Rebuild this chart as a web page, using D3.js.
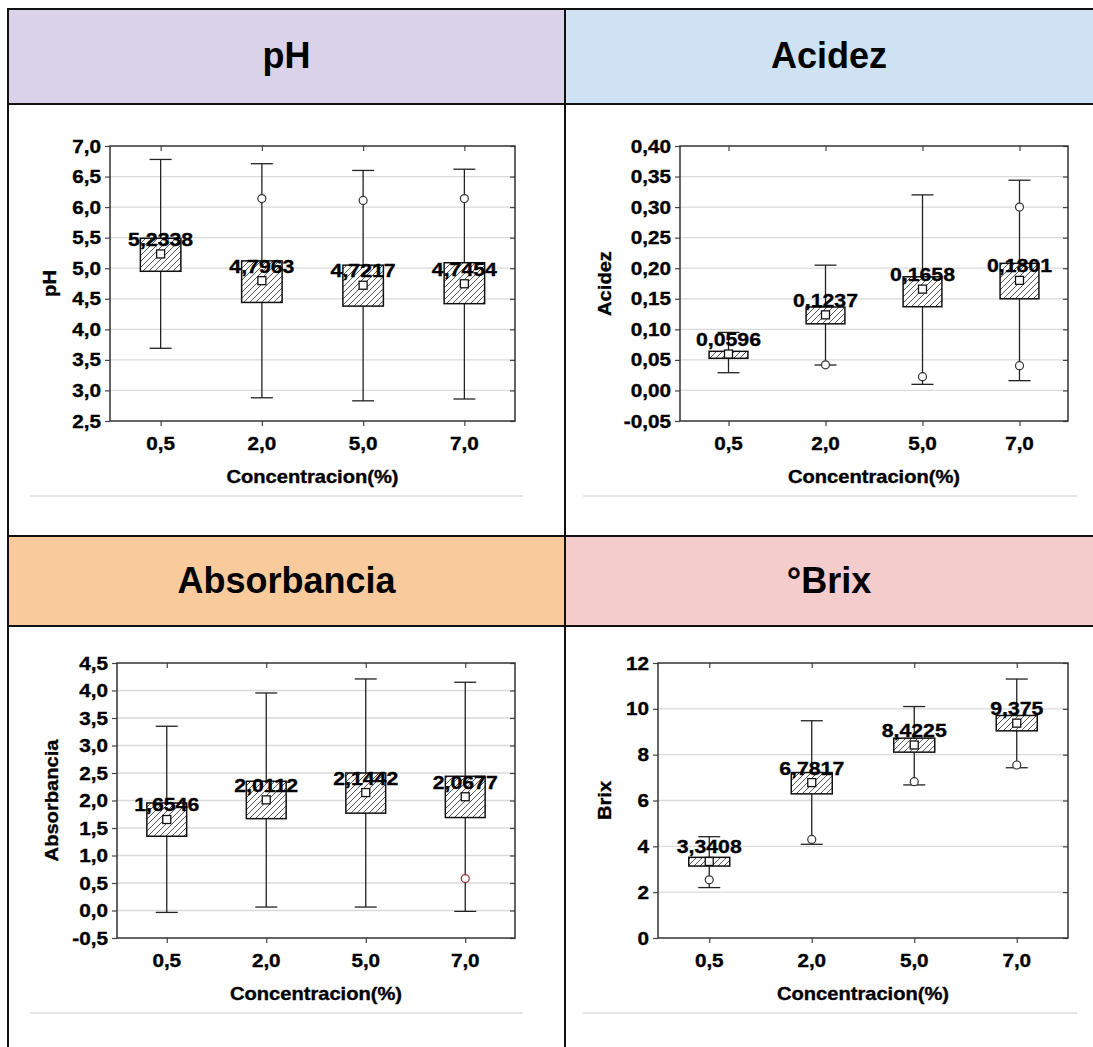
<!DOCTYPE html>
<html>
<head>
<meta charset="utf-8">
<script src="https://cdn.jsdelivr.net/npm/d3@7"></script>
<style>
  body { margin: 0; background: #fff; }
  svg { display: block; font-family: Arial, "Liberation Sans", sans-serif; }
</style>
</head>
<body>
<script>
// DATOS ------------------------------------------------------------------
const concentraciones = ["0,5", "2,0", "5,0", "7,0"]

const phMedia    = [5.2338, 4.7963, 4.7217, 4.7454]
const phCajaSup  = [5.49, 5.12, 5.05, 5.09]
const phCajaInf  = [4.95, 4.44, 4.38, 4.42]
const phMax      = [6.78, 6.71, 6.60, 6.62]
const phMin      = [3.69, 2.88, 2.83, 2.86]
const phAtipicos = [[], [6.14], [6.11], [6.14]]
const phTicks    = [2.5, 3.0, 3.5, 4.0, 4.5, 5.0, 5.5, 6.0, 6.5, 7.0]

const acMedia    = [0.0596, 0.1237, 0.1658, 0.1801]
const acCajaSup  = [0.064, 0.1365, 0.186, 0.208]
const acCajaInf  = [0.0526, 0.109, 0.137, 0.150]
const acMax      = [0.095, 0.205, 0.320, 0.344]
const acMin      = [0.029, 0.0416, 0.010, 0.016]
const acAtipicos = [[], [0.042], [0.0225], [0.300, 0.0405]]
const acTicks    = [-0.05, 0.00, 0.05, 0.10, 0.15, 0.20, 0.25, 0.30, 0.35, 0.40]

const abMedia    = [1.6546, 2.0112, 2.1442, 2.0677]
const abCajaSup  = [1.955, 2.35, 2.50, 2.44]
const abCajaInf  = [1.35, 1.67, 1.77, 1.69]
const abMax      = [3.35, 3.955, 4.21, 4.15]
const abMin      = [-0.035, 0.063, 0.063, -0.016]
const abAtipicos = [[], [], [], [0.58]]
const abTicks    = [-0.5, 0.0, 0.5, 1.0, 1.5, 2.0, 2.5, 3.0, 3.5, 4.0, 4.5]

const brMedia    = [3.3408, 6.7817, 8.4225, 9.375]
const brCajaSup  = [3.52, 7.22, 8.72, 9.71]
const brCajaInf  = [3.14, 6.29, 8.11, 9.04]
const brMax      = [4.42, 9.48, 10.1, 11.3]
const brMin      = [2.20, 4.09, 6.68, 7.43]
const brAtipicos = [[2.54], [4.30], [6.82], [7.55]]
const brTicks    = [0, 2, 4, 6, 8, 10, 12]

// 1. LIENZO Y TABLA ------------------------------------------------------
const width = 1093, height = 1047
const stretch = 1.15 // el texto del grafico original esta algo ensanchado

const svg = d3.select("body").append("svg")
  .attr("width", width)
  .attr("height", height)

const loc = d3.formatLocale({decimal: ",", thousands: ".", grouping: [3], currency: ["", ""], minus: "-"})

const colEdges = [8, 565, 1100]
const headerRows = [[9, 104], [536, 626]]
const headers = [
  [{txt: "pH", fill: "#d9d2e9"}, {txt: "Acidez", fill: "#cfe2f3"}],
  [{txt: "Absorbancia", fill: "#f9cb9c"}, {txt: "°Brix", fill: "#f4cccc"}]
]

headers.forEach((row, r) => {
  row.forEach((h, c) => {
    svg.append("rect")
      .attr("x", colEdges[c]).attr("y", headerRows[r][0])
      .attr("width", colEdges[c + 1] - colEdges[c])
      .attr("height", headerRows[r][1] - headerRows[r][0])
      .attr("fill", h.fill)
    svg.append("text")
      .attr("x", (colEdges[c] + Math.min(colEdges[c + 1], 1093)) / 2)
      .attr("y", (headerRows[r][0] + headerRows[r][1]) / 2 - 1)
      .attr("dy", "0.36em")
      .attr("text-anchor", "middle")
      .attr("font-size", 36)
      .attr("font-weight", "bold")
      .attr("fill", "#000")
      .text(h.txt)
  })
})

const borders = svg.append("g").attr("stroke", "#111").attr("stroke-width", 2)
;[9, 104, 536, 626].forEach(y => {
  borders.append("line").attr("x1", colEdges[0] - 1).attr("x2", width).attr("y1", y).attr("y2", y)
})
colEdges.slice(0, 2).forEach(x => {
  borders.append("line").attr("x1", x).attr("x2", x).attr("y1", 8).attr("y2", height)
})

// trama rayada de las cajas
const defs = svg.append("defs")
const pat = defs.append("pattern")
  .attr("id", "hatch")
  .attr("patternUnits", "userSpaceOnUse")
  .attr("width", 6).attr("height", 6)
pat.append("rect").attr("width", 6).attr("height", 6).attr("fill", "#fff")
pat.append("path")
  .attr("d", "M-1,1 l2,-2 M0,6 l6,-6 M5,7 l2,-2")
  .attr("stroke", "#444").attr("stroke-width", 0.9)

// texto ensanchado horizontalmente
const addText = (g, x, y, str, size, anchor, rot) => {
  return g.append("text")
    .attr("transform", `translate(${x},${y})` + (rot ? ` rotate(${rot})` : "") + ` scale(${stretch},1)`)
    .attr("text-anchor", anchor || "middle")
    .attr("font-size", size)
    .attr("font-weight", "bold")
    .attr("fill", "#000")
    .attr("stroke", "#000")
    .attr("stroke-width", 0.35)
    .text(str)
}

// 2. PANELES -------------------------------------------------------------
const panels = [
  {yTitle: "pH", x0: 110, x1: 515, y0: 146, y1: 421, titleX: 50, sepX: [30, 523],
   domain: [2.5, 7.0], ticks: phTicks, fmt: ".1f",
   media: phMedia, sup: phCajaSup, inf: phCajaInf, max: phMax, min: phMin, atip: phAtipicos},
  {yTitle: "Acidez", x0: 680, x1: 1068, y0: 146, y1: 421, titleX: 605, sepX: [583, 1077],
   domain: [-0.05, 0.40], ticks: acTicks, fmt: ".2f",
   media: acMedia, sup: acCajaSup, inf: acCajaInf, max: acMax, min: acMin, atip: acAtipicos},
  {yTitle: "Absorbancia", x0: 117, x1: 515, y0: 663, y1: 938, titleX: 52, sepX: [30, 523],
   domain: [-0.5, 4.5], ticks: abTicks, fmt: ".1f",
   media: abMedia, sup: abCajaSup, inf: abCajaInf, max: abMax, min: abMin, atip: abAtipicos,
   atipColor: i => i === 3 ? "#9b3030" : "#333"},
  {yTitle: "Brix", x0: 658, x1: 1068, y0: 663, y1: 938, titleX: 605, sepX: [583, 1077],
   domain: [0, 12], ticks: brTicks, fmt: "d",
   media: brMedia, sup: brCajaSup, inf: brCajaInf, max: brMax, min: brMin, atip: brAtipicos}
]

panels.forEach(p => {
  const g = svg.append("g")
  const x = d3.scalePoint().domain(concentraciones).range([p.x0, p.x1]).padding(0.5)
  const y = d3.scaleLinear().domain(p.domain).range([p.y1, p.y0])
  const step = x.step()
  const boxHalf = step * 0.2
  const capHalf = 11
  const fmt = loc.format(p.fmt)

  // rejilla
  g.append("g").selectAll("line")
    .data(p.ticks.slice(1, -1))
    .join("line")
    .attr("x1", p.x0).attr("x2", p.x1)
    .attr("y1", d => y(d)).attr("y2", d => y(d))
    .attr("stroke", "#dadada").attr("stroke-width", 1.3)

  // ejes
  const axL = g.append("g").attr("transform", `translate(${p.x0},0)`)
    .call(d3.axisLeft(y).tickValues(p.ticks).tickSize(5).tickFormat(""))
  const axR = g.append("g").attr("transform", `translate(${p.x1},0)`)
    .call(d3.axisRight(y).tickValues(p.ticks).tickSize(-5).tickFormat(""))
  const axB = g.append("g").attr("transform", `translate(0,${p.y1})`)
    .call(d3.axisBottom(x).tickSize(5).tickFormat(""))
  const axT = g.append("g").attr("transform", `translate(0,${p.y0})`)
    .call(d3.axisTop(x).tickSize(-5).tickFormat(""))
  ;[axL, axR, axB, axT].forEach(a => {
    a.select(".domain").remove()
    a.selectAll("line").attr("stroke", "#444").attr("stroke-width", 1.2)
  })

  g.append("rect")
    .attr("x", p.x0).attr("y", p.y0)
    .attr("width", p.x1 - p.x0).attr("height", p.y1 - p.y0)
    .attr("fill", "none").attr("stroke", "#333").attr("stroke-width", 1.5)

  // etiquetas de los ejes
  p.ticks.forEach(t => addText(g, p.x0 - 9, y(t) + 6.5, fmt(t), 18, "end"))
  concentraciones.forEach(c => addText(g, x(c), p.y1 + 28.5, c, 18, "middle"))
  addText(g, (p.x0 + p.x1) / 2, p.y1 + 62, "Concentracion(%)", 17.5, "middle")
  addText(g, p.titleX + 6, (p.y0 + p.y1) / 2, p.yTitle, 17.5, "middle", -90)

  // separador gris bajo cada grafico
  g.append("line")
    .attr("x1", p.sepX[0]).attr("x2", p.sepX[1])
    .attr("y1", p.y1 + 75).attr("y2", p.y1 + 75)
    .attr("stroke", "#dcdcdc").attr("stroke-width", 1.5)

  // cajas y bigotes
  concentraciones.forEach((c, i) => {
    const cx = x(c)
    const wg = g.append("g").attr("stroke", "#222").attr("stroke-width", 1.3)
    wg.append("line").attr("x1", cx).attr("x2", cx).attr("y1", y(p.max[i])).attr("y2", y(p.min[i]))
    wg.append("line").attr("x1", cx - capHalf).attr("x2", cx + capHalf).attr("y1", y(p.max[i])).attr("y2", y(p.max[i]))
    wg.append("line").attr("x1", cx - capHalf).attr("x2", cx + capHalf).attr("y1", y(p.min[i])).attr("y2", y(p.min[i]))

    g.append("rect")
      .attr("x", cx - boxHalf).attr("y", y(p.sup[i]))
      .attr("width", boxHalf * 2).attr("height", y(p.inf[i]) - y(p.sup[i]))
      .attr("fill", "url(#hatch)")
      .attr("stroke", "#111").attr("stroke-width", 1.5)

    p.atip[i].forEach(v => {
      g.append("circle")
        .attr("cx", cx).attr("cy", y(v)).attr("r", 4)
        .attr("fill", "#fff")
        .attr("stroke", p.atipColor ? p.atipColor(i) : "#333")
        .attr("stroke-width", 1.2)
    })

    g.append("rect")
      .attr("x", cx - 4).attr("y", y(p.media[i]) - 4)
      .attr("width", 8).attr("height", 8)
      .attr("fill", "#fff").attr("stroke", "#111").attr("stroke-width", 1.3)

    addText(g, cx, y(p.media[i]) - 8, loc.format(",")(p.media[i]), 18.5, "middle")
  })
})
</script>
</body>
</html>
